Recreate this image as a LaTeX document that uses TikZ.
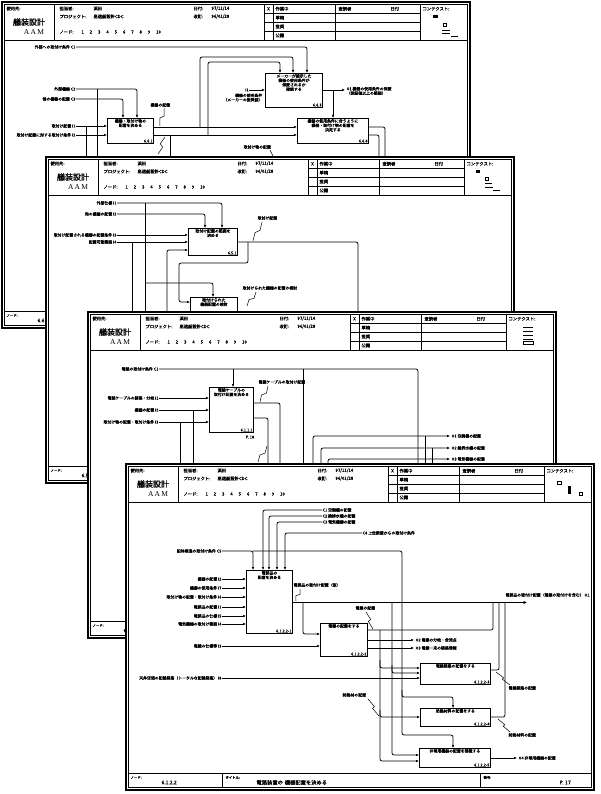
\documentclass[tikz,border=0pt]{standalone}
\usepackage{fontspec}
\setmainfont{Noto Sans CJK JP}[FakeBold=0.9]
\newfontfamily\serifA{Liberation Serif}
\usetikzlibrary{arrows.meta,calc}
\newcommand\lbf{\fontsize{3.9}{4.4}\selectfont}
\newcommand\hdf{\fontsize{4.3}{5}\selectfont}
\newcommand\smf{\fontsize{3.4}{4}\selectfont}
\newcommand\squig[2]{\draw[line width=0.5pt] #1 -- ($#1!0.42!#2+(1.8,0.4)$) -- ($#1!0.58!#2+(-1.8,-0.4)$) -- #2;}
\newcommand\idbox[7]{%
  \node[fn, minimum width=#4pt, minimum height=#5pt] (#1) at (#2,#3) {};
  \node[bt] (#1t) at (#1.north) {#6};
  \node[bn] (#1n) at (#1.south east) {#7};}
\newcommand\nums{1\hspace{5.9pt}2\hspace{5.9pt}3\hspace{5.9pt}4\hspace{5.9pt}5\hspace{5.9pt}6\hspace{5.9pt}7\hspace{5.9pt}8\hspace{5.9pt}9\hspace{5.9pt}10}
\newcommand\idsheet[4]{%
\begin{scope}[shift={#2}]
  \fill[white] (0,0) rectangle (468,326);
  \draw[line width=1.1pt] (0,0) rectangle (468,326);
  \draw[line width=0.5pt] (2.4,2.4) rectangle (465.6,323.6);
  \draw[line width=0.7pt] (2.4,38) -- (465.6,38) (52,2.4) -- (52,38)
     (262,2.4) -- (262,38) (271,2.4) -- (271,38) (333,2.4) -- (333,38) (418,2.4) -- (418,38)
     (262,11.2) -- (418,11.2) (262,20.1) -- (418,20.1) (262,29.1) -- (418,29.1);
  \draw[line width=0.7pt] (2.4,309) -- (465.6,309) (96,309) -- (96,323.6) (354,309) -- (354,323.6);
  \node[hd,anchor=west] (#1a) at (4,6.5) {使用先:};
  \node[font=\fontsize{8}{9}\selectfont,inner sep=0pt] (#1b) at (27,20) {艤装設計};
  \node[font=\serifA\fontsize{7.5}{8}\selectfont,inner sep=0pt] (#1c) at (32,30.5) {A\,A\,M};
  \node[hd,anchor=west] (#1d) at (57,6.5) {担当者:};
  \node[hd,anchor=west] (#1e) at (91,6.5) {浜田};
  \node[hd,anchor=west] (#1f) at (57,14.5) {プロジェクト:};
  \node[hd,anchor=west] (#1g) at (91,14.5) {高速艇設計CDC};
  \node[hd,anchor=west] (#1h) at (57,30) {ノード:};
  \node[hd,anchor=west] (#1i) at (79,30) {\nums};
  \node[hd,anchor=west] (#1j) at (191,6.5) {日付:};
  \node[hd,anchor=west] (#1k) at (209,6.5) {97/11/14};
  \node[hd,anchor=west] (#1l) at (191,14.5) {改訂:};
  \node[hd,anchor=west] (#1m) at (209,14.5) {96/01/28};
  \node[hd] (#1n) at (266.5,6.8) {X};
  \node[hd,anchor=west] (#1o) at (273,6.8) {作業中};
  \node[hd,anchor=west] (#1p) at (273,15.7) {草稿};
  \node[hd,anchor=west] (#1q) at (273,24.6) {推奨};
  \node[hd,anchor=west] (#1r) at (273,33.5) {公開};
  \node[hd,anchor=west] (#1s) at (336,6.8) {査読者};
  \node[hd,anchor=west] (#1t) at (388,6.8) {日付};
  \node[hd,anchor=west] (#1u) at (420,6.8) {コンテクスト:};
  \node[font=\smf,anchor=west,inner sep=0.3pt] (#1v) at (4,313.5) {ノード:};
  \node[font=\fontsize{5}{6}\selectfont,anchor=west,inner sep=0.3pt] (#1w) at (35,318.5) {#3};
  \begin{scope}[line width=0.6pt]
  #4
  \end{scope}
\end{scope}}
\begin{document}
\begin{tikzpicture}[x=1pt,y=-1pt,
  lb/.style={font=\lbf, inner sep=0.4pt},
  hd/.style={font=\hdf, inner sep=0.3pt},
  fn/.style={draw, line width=0.9pt, fill=white, inner sep=0pt, anchor=north west},
  ar/.style={-{Latex[length=3pt,width=2.6pt]}, rounded corners=2pt, line width=0.75pt},
  ln/.style={rounded corners=2pt, line width=0.75pt},
  bt/.style={font=\lbf, align=center, inner sep=1pt, anchor=north},
  bn/.style={font=\lbf, inner sep=1.2pt, anchor=south east}]
\useasboundingbox (0,0) rectangle (600,794);
\fill[white] (0,0) rectangle (600,794);

% ================= SHEET 1 =================
\idsheet{sa}{(2,2)}{6.6}{%
  \fill (431,13) rectangle (436,16);
  \draw (441,21) rectangle (444,24);
  \draw (440,28) -- (448,28) (440,31) -- (448,31);
  \draw (449,34) -- (456,34);}
\idbox{b11}{107}{118}{46}{25}{機器・取付け物の\\配置を決める}{6.6.1}
\idbox{b12}{265}{73}{57}{34}{メーカーが提示した\\機器の使用条件が\\保証されるか\\確認する}{6.6.3}
\idbox{b13}{297}{118}{71}{25}{機器の使用条件に合うように\\機器・取付け物の配置を\\決定する}{6.6.4}
\node[lb,anchor=east] (l11) at (76,47) {外部への取付け条件 C1};
\draw[ar] (l11.east) -- (307,47) -- (307,73);
\node[lb,anchor=east] (l12) at (76,89) {外部機器 C2};
\draw[ar] (l12.east) -- (137,89) -- (137,118);
\node[lb,anchor=east] (l13) at (76,99) {他の機器の配置 C3};
\draw[ar] (l13.east) -- (123,99) -- (123,118);
\node[lb,anchor=east] (l14) at (76,126) {取付け配置 I1};
\draw[ar] (l14.east) -- (107,126);
\node[lb,anchor=east] (l15) at (76,135) {取付け配置に対する取付け条件 I2};
\draw[ar] (l15.east) -- (107,135);
\draw[ln] (97,89) -- (97,165);
\draw[ln] (86,126) -- (86,165);
\draw[ar] (153,127) -- (297,127);
\draw[ar] (153,135) -- (297,135);
\draw[ar] (200,127) -- (200,57) -- (293,57) -- (293,73);
\draw[ar] (208,135) -- (208,62) -- (280,62) -- (280,73);
\node[lb,anchor=west] (l16) at (150,105) {機器の配置};
\squig{(164,108)}{(160,126)}
\draw[ln] (170,135) -- (170,165);
\squig{(158,154)}{(165,137)}
\node[lb,anchor=west] (l17) at (243,147) {取付け物の配置};
\draw[line width=0.5pt] (270,150) -- (273,156);
\node[lb] (l18) at (247,90) {I1};
\draw[ar] (l18.east) -- (265,90);
\node[lb,anchor=north east,align=right] (l19) at (263,93) {機器の使用条件\\（メーカーの推奨値）};
\draw[ar] (322,90) -- (345,90);
\node[lb,anchor=west,align=left] (l1a) at (346,91) {O1 機器の使用条件の保証\\（保証値以上の範囲）};
\draw[ar] (333,90) -- (333,118);
\draw[ln] (368,127) -- (385,127) -- (385,165);
\draw[ln] (368,135) -- (379,135) -- (379,165);

% ================= SHEET 2 =================
\idsheet{sb}{(46,157)}{6.5}{%
  \fill (430,13) rectangle (434,16);
  \draw (439,20) rectangle (442,23);
  \draw (439,26) -- (446,26) (439,30) -- (447,30);
  \draw (447,33) -- (454,33);}
\idbox{b21}{188}{228}{49}{27}{取付け配置の範囲を\\決める}{6.5.1}
\idbox{b22}{190}{297}{47}{30}{取付けられた\\機器配置の検討}{6.5.2}
\node[lb,anchor=east] (l21) at (117,203) {外部仕様 I1};
\draw[ar] (l21.east) -- (222,203) -- (222,228);
\node[lb,anchor=east] (l22) at (117,214) {他の機器の配置 I2};
\draw[ar] (l22.east) -- (205,214) -- (205,228);
\node[lb,anchor=east] (l23) at (117,235) {取付け配置される機器の配置条件 I3};
\draw[ar] (l23.east) -- (188,235);
\node[lb,anchor=east] (l24) at (117,242) {配置可能範囲 I4};
\draw[ar] (l24.east) -- (188,242);
\draw[ar] (167,320) -- (167,250) -- (188,250);
\draw[ln] (132,242) -- (132,320);
\draw[ln] (145,203) -- (145,320);
\draw[ar] (145,283) -- (213,283) -- (213,297);
\draw[ln] (237,242) -- (358,242) -- (358,320);
\draw[ar] (248,242) -- (248,263) -- (179,263) -- (179,302) -- (190,302);
\node[lb,anchor=west] (l25) at (257,218) {取付け配置};
\squig{(262,222)}{(253,241)}
\node[lb,anchor=west] (l26) at (242,288) {取付けられた機器の配置の検討};
\squig{(256,292)}{(247,306)}

% ================= SHEET 3 =================
\idsheet{sc}{(88,312)}{6.1.1}{%
  \draw (435,15) -- (445,15) (435,19) -- (445,19) (435,23) -- (445,23) (435,27) -- (445,27);
  \draw (435,29.5) rectangle (445,32);}
\idbox{b31}{209}{387}{44}{45}{電線ケーブルの\\取付け配置を決める}{6.1.1.1}
\node[lb,anchor=north] (p18) at (250,435) {P. 18};
\node[lb,anchor=east] (l31) at (159,369) {電線の取付け条件 C1};
\draw[ln] (l31.east) -- (418,369) -- (418,470);
\draw[ar] (233,369) -- (233,387);
\draw[ln] (303,369) -- (303,470);
\node[lb,anchor=east] (l32) at (159,398) {電線ケーブルの経路・分岐 I1};
\draw[ar] (l32.east) -- (209,398);
\node[lb,anchor=east] (l33) at (159,410) {機器の配置 I2};
\draw[ar] (l33.east) -- (209,410);
\node[lb,anchor=east] (l34) at (159,422) {取付け物の配置・取付け条件 I3};
\draw[ar] (l34.east) -- (209,422);
\draw[ln] (193,410) -- (193,470);
\draw[ln] (180,422) -- (180,470);
\draw[ln] (253,403) -- (280,403) -- (280,470);
\draw[ln] (253,418) -- (268,418) -- (268,470);
\node[lb,anchor=west] (l35) at (258,382) {電線ケーブルの取付け配置};
\squig{(268,386)}{(260,402)}
\squig{(267,446)}{(258,462)}
\draw[ar] (313,470) -- (313,436) -- (450,436);
\draw[ar] (321,470) -- (321,448) -- (450,448);
\draw[ar] (328,470) -- (328,459) -- (450,459);
\draw[ln] (425,436) -- (425,470);
\draw[ln] (432,448) -- (432,470);
\node[lb,anchor=west] (l36) at (451,436) {O1 空調機の配置};
\node[lb,anchor=west] (l37) at (451,448) {O2 給排水機の配置};
\node[lb,anchor=west] (l38) at (451,459) {O3 電気機器の配置};

% ================= SHEET 4 =================
\idsheet{sd}{(126,464)}{6.1.2.2}{%
  \draw (431,17) rectangle (435,20);
  \fill (442,22) rectangle (444.5,30);
  \draw (453,28) rectangle (456,31);}
\node[font=\smf,anchor=west,inner sep=0.3pt] (ft1) at (225,777.5) {タイトル:};
\node[font=\fontsize{5.3}{6}\selectfont,anchor=west,inner sep=0.3pt] (ft2) at (256,782.5) {電路装置の\,\,機器配置を決める};
\node[font=\smf,anchor=west,inner sep=0.3pt] (ft3) at (483,777.5) {番号:};
\node[font=\fontsize{5.3}{6}\selectfont,anchor=west,inner sep=0.3pt] (ft4) at (559,782.5) {P. 17};
\idbox{b41}{246}{570}{46}{63}{電装品の\\配置を決める}{6.1.2.2-1}
\idbox{b42}{320}{623}{47}{33}{電線の配置をする}{6.1.2.2-2}
\idbox{b43}{420}{663}{70}{21}{電線経路の配置をする}{6.1.2.2-3}
\idbox{b44}{420}{708}{70}{18}{防熱材料の配置をする}{6.1.2.2-4}
\idbox{b45}{419}{748}{71}{19}{非常用機器の配置を確認する}{6.1.2.2-5}
\node[lb,anchor=west] (l41) at (322,510) {C1 空調機の配置};
\draw[ar] (l41.west) -- (263,510) -- (263,570);
\node[lb,anchor=west] (l42) at (322,516) {C2 給排水機の配置};
\draw[ar] (l42.west) -- (269,516) -- (269,570);
\node[lb,anchor=west] (l43) at (322,522) {C3 電気機器の配置};
\draw[ar] (l43.west) -- (277,522) -- (277,570);
\node[lb,anchor=west] (l44) at (362,533) {C4 上位装置からの取付け条件};
\draw[ar] (l44.west) -- (285,533) -- (285,570);
\node[lb,anchor=east] (l45) at (222,551) {船体構造の取付け条件 C5};
\draw[ar] (l45.east) -- (253,551) -- (253,570);
\draw[ar] (253,551) -- (402,551) -- (402,697) -- (453,697) -- (453,708);
\draw[ar] (402,690) -- (402,735) -- (453,735) -- (453,748);
\foreach \yy/\tx [count=\i] in {579/機器の配置 I2, 588/機器の使用条件 I7, 597/取付け物の配置・取付け条件 I6, 607/電装品の配置 I1, 616/電装品の仕様 I5, 624/電気機器の取付け範囲 I4}
  {\node[lb,anchor=east] (li\i) at (222,\yy) {\tx}; \draw[ar] (li\i.east) -- (246,\yy);}
\node[lb,anchor=east] (l47) at (222,646) {電線の仕様等 I3};
\draw[ar] (l47.east) -- (320,646);
\node[lb,anchor=east] (l48) at (222,678) {天井空間の配線経路（トータルな配線経路） I8};
\draw[ar] (l48.east) -- (420,678);
% outputs box 1
\draw[ln] (292,602) -- (495,602);
\draw[-{Latex[length=3.4pt,width=3.2pt]}, line width=1.5pt] (492,602.5) -- (527,602.5);
\node[lb,anchor=west] (l49) at (505,595) {電装品の取付け配置（電線の取付けを含む） O1};
\draw[ar] (303,602) -- (303,634) -- (320,634);
\node[lb,anchor=west] (l4a) at (293,585) {電装品の取付け配置（仮）};
\squig{(300,589)}{(296,601)}
% outputs box 2
\draw[ln] (367,630) -- (493,630) -- (493,603);
\draw[ar] (367,640) -- (414,640);
\node[lb,anchor=west] (l4b) at (415,640) {O2 電線の分岐・合流点};
\draw[ar] (367,648) -- (414,648);
\node[lb,anchor=west] (l4c) at (415,648) {O3 電線一束の経路情報};
\node[lb,anchor=west] (l4d) at (355,608) {電線の配置};
\squig{(366,612)}{(373,629)}
% verticals
\draw[ar] (380,630) -- (380,668) -- (420,668);
\draw[ar] (380,660) -- (380,717) -- (420,717);
\draw[ar] (380,710) -- (380,761) -- (419,761);
\draw[ar] (392,602) -- (392,673) -- (420,673);
\draw[ar] (392,665) -- (392,755) -- (419,755);
\node[lb,anchor=west] (l4e) at (342,695) {防熱材の配置};
\squig{(368,699)}{(379,716)}
% outputs A, B, C
\draw[ln] (490,670) -- (499,670) -- (499,603);
\draw[ln] (490,717) -- (505,717) -- (505,603);
\node[lb,anchor=west] (l4f) at (508,688) {電線経路の配置};
\squig{(496,672)}{(510,685)}
\node[lb,anchor=west] (l4g) at (508,735) {防熱材料の配置};
\squig{(498,719)}{(510,732)}
\draw[ar] (490,758) -- (517,758);
\node[lb,anchor=west] (l4h) at (518,758) {O4 非常用機器の配置};
\end{tikzpicture}
\end{document}
